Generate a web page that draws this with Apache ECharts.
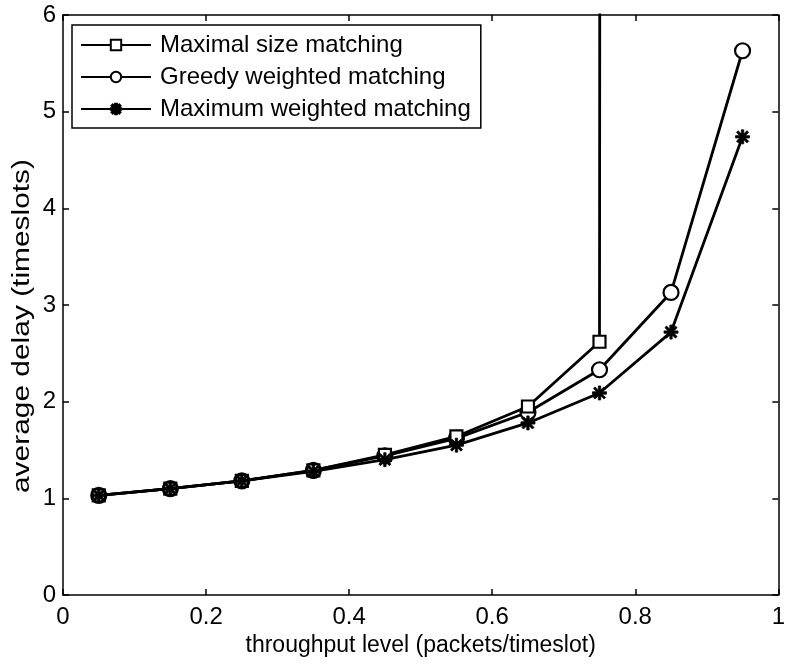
<!DOCTYPE html>
<html><head><meta charset="utf-8">
<script src="https://cdn.jsdelivr.net/npm/echarts@6/dist/echarts.min.js"></script>
<style>html,body{margin:0;padding:0;background:#fff}#c{width:788px;height:664px}</style>
</head><body><div id="c"></div>
<script>
const throughput = [0.05, 0.15, 0.25, 0.35, 0.45, 0.55, 0.65, 0.75, 0.85, 0.95];
const maximalSize = [1.03, 1.10, 1.18, 1.29, 1.45, 1.64, 1.95, 2.62, 1000];
const greedyWeighted = [1.03, 1.10, 1.18, 1.29, 1.44, 1.62, 1.89, 2.33, 3.13, 5.63];
const maximumWeighted = [1.03, 1.10, 1.18, 1.28, 1.40, 1.55, 1.78, 2.09, 2.72, 4.74];
const seriesNames = ['Maximal size matching', 'Greedy weighted matching', 'Maximum weighted matching'];
const xTitle = 'throughput level (packets/timeslot)';
const yTitle = 'average delay (timeslots)';

const asterisk = 'path://M5 0L7 0L7 12L5 12Z M0 5L12 5L12 7L0 7Z M2.2 0.8L11.2 9.8L9.8 11.2L0.8 2.2Z M9.8 0.8L11.2 2.2L2.2 11.2L0.8 9.8Z';
const font = 'Liberation Sans, Arial, Helvetica, sans-serif';
function pairs(vals){ return vals.map((v,i)=>[throughput[i], v]); }

const chart = echarts.init(document.getElementById('c'), null, {renderer:'canvas'});
function axisCommon(){ return {
  axisLine:{show:true, onZero:false, lineStyle:{color:'#000', width:1.5}},
  axisTick:{show:true, inside:true, length:6, lineStyle:{color:'#000', width:1.5}},
  splitLine:{show:false}
};}
chart.setOption({
  backgroundColor:'#fff',
  animation:false,
  grid:{left:63, right:3, top:15, bottom:69, containLabel:false},
  legend:{
    orient:'vertical', left:72, top:25, itemWidth:70, itemHeight:13, itemGap:8,
    padding:[8,10,7,8], borderColor:'#000', borderWidth:1.5, backgroundColor:'#fff',
    textStyle:{fontFamily:font, fontSize:24, color:'#000', padding:[0,0,0,4]},
    data:seriesNames
  },
  graphic:[{
    type:'text', x:23, y:326, rotation:Math.PI/2, scaleX:1.3,
    style:{text:yTitle, fontFamily:font, fontSize:23, fill:'#000', align:'center', verticalAlign:'middle'}
  }],
  xAxis:[
    Object.assign({type:'value', min:0, max:1, interval:0.2, position:'bottom',
      name:xTitle, nameLocation:'middle', nameGap:31,
      nameTextStyle:{fontFamily:font, fontSize:23, color:'#000'},
      axisLabel:{fontFamily:font, fontSize:24, color:'#000', margin:10, formatter:v=>String(Math.round(v*10)/10)}}, axisCommon()),
    Object.assign({type:'value', min:0, max:1, interval:0.2, position:'top', axisLabel:{show:false}}, axisCommon())
  ],
  yAxis:[
    Object.assign({type:'value', min:0, max:6, interval:1, position:'left',
      axisLabel:{fontFamily:font, fontSize:24, color:'#000', margin:7}}, axisCommon()),
    Object.assign({type:'value', min:0, max:6, interval:1, position:'right', axisLabel:{show:false}}, axisCommon())
  ],
  series:[
    {name:seriesNames[0], type:'line', data:pairs(maximalSize), clip:true, symbol:'rect', symbolSize:12,
      lineStyle:{color:'#000', width:2.8}, itemStyle:{color:'#fff', borderColor:'#000', borderWidth:2.2}, z:3},
    {name:seriesNames[1], type:'line', data:pairs(greedyWeighted), clip:true, symbol:'circle', symbolSize:15,
      lineStyle:{color:'#000', width:2.8}, itemStyle:{color:'#fff', borderColor:'#000', borderWidth:2.2}, z:2},
    {name:seriesNames[2], type:'line', data:pairs(maximumWeighted), clip:true, symbol:asterisk, symbolSize:14,
      lineStyle:{color:'#000', width:2.8}, itemStyle:{color:'#000', borderColor:'#000', borderWidth:0.8}, z:4}
  ]
});
</script></body></html>
